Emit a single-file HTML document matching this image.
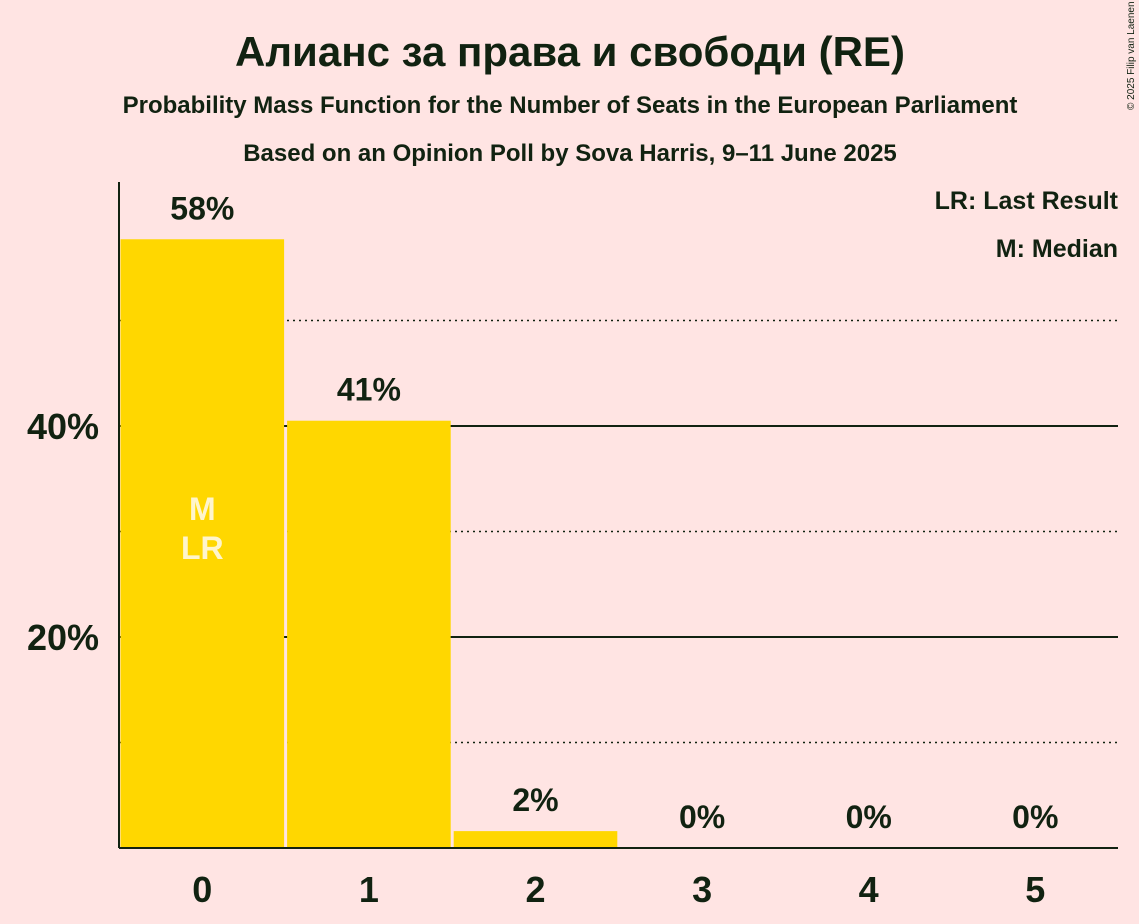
<!DOCTYPE html>
<html><head><meta charset="utf-8">
<style>
html,body{margin:0;padding:0;background:#ffe4e3;}
svg{display:block;font-family:"Liberation Sans",sans-serif;}
</style></head>
<body>
<svg id="chart" width="1139" height="924" viewBox="0 0 1139 924">
<rect width="1139" height="924" fill="#ffe4e3"/>
<text x="570" y="66" text-anchor="middle" font-size="42" font-weight="bold" fill="#112211">Алианс за права и свободи (RE)</text>
<text x="570" y="113" text-anchor="middle" font-size="24" font-weight="bold" fill="#112211">Probability Mass Function for the Number of Seats in the European Parliament</text>
<text x="570" y="161" text-anchor="middle" font-size="24" font-weight="bold" fill="#112211">Based on an Opinion Poll by Sova Harris, 9–11 June 2025</text>
<text x="1134" y="110" font-size="10" fill="#112211" transform="rotate(-90 1134 110)">© 2025 Filip van Laenen</text>
<text x="1118" y="209" text-anchor="end" font-size="25" font-weight="bold" fill="#112211">LR: Last Result</text>
<text x="1118" y="257" text-anchor="end" font-size="25" font-weight="bold" fill="#112211">M: Median</text>
<g id="grid"></g>
<g id="bars"></g>
<line x1="119" y1="182" x2="119" y2="848" stroke="#112211" stroke-width="2"/>
<line x1="119" y1="848" x2="1118" y2="848" stroke="#112211" stroke-width="2"/>
</svg>
<script>
const categories = [0, 1, 2, 3, 4, 5];
const values = [57.7, 40.5, 1.6, 0, 0, 0];
const valueLabels = ["58%", "41%", "2%", "0%", "0%", "0%"];
const yTicks = [20, 40];
const yDotted = [10, 30, 50];
const medianIndex = 0;
const lastResultIndex = 0;

const NS = "http://www.w3.org/2000/svg";
const x0 = 119, step = 166.6, y0 = 848, pxPer = 10.55;
const xCenter = i => x0 + step * (i + 0.5);
const yPos = v => y0 - v * pxPer;
function mk(tag, attrs, parent) {
  const e = document.createElementNS(NS, tag);
  for (const k in attrs) e.setAttribute(k, attrs[k]);
  parent.appendChild(e);
  return e;
}
const grid = document.getElementById("grid");
yDotted.forEach(v => {
  const l = mk("line", {x1: 119, x2: 1118, y1: yPos(v), y2: yPos(v), stroke: "#112211", "stroke-width": 1.5, "stroke-dasharray": "2,4"}, grid);
  
  
});
yTicks.forEach(v => {
  const l = mk("line", {x1: 119, x2: 1118, y1: yPos(v), y2: yPos(v), stroke: "#112211", "stroke-width": 2}, grid);
  
  
  const t = mk("text", {x: 99, y: yPos(v) + 13, "text-anchor": "end", "font-size": 36, "font-weight": "bold", fill: "#112211"}, grid);
  t.textContent = v + "%";
  
  
});
const bars = document.getElementById("bars");
categories.forEach((c, i) => {
  const cx = xCenter(i);
  if (values[i] > 0) {
    const r = mk("rect", {x: cx - step / 2 + 1.5, y: yPos(values[i]), width: step - 3, height: y0 - yPos(values[i]), fill: "#ffd700"}, bars);
    
    
  }
  const vl = mk("text", {x: cx, y: yPos(values[i]) - 20, "text-anchor": "middle", "font-size": 32, "font-weight": "bold", fill: "#112211"}, bars);
  vl.textContent = valueLabels[i];
  
  
  const xl = mk("text", {x: cx, y: 902, "text-anchor": "middle", "font-size": 36, "font-weight": "bold", fill: "#112211"}, bars);
  xl.textContent = c;
  
  
});
const m = mk("text", {x: xCenter(medianIndex), y: 520, "text-anchor": "middle", "font-size": 32, "font-weight": "bold", fill: "#fff5cc"}, bars);
m.textContent = "M";


const lr = mk("text", {x: xCenter(lastResultIndex), y: 559, "text-anchor": "middle", "font-size": 32, "font-weight": "bold", fill: "#fff5cc"}, bars);
lr.textContent = "LR";


</script>
</body></html>
